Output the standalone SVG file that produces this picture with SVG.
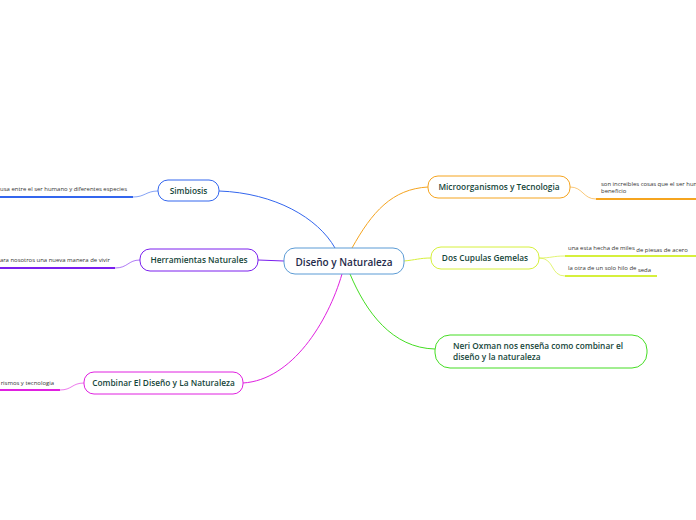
<svg xmlns="http://www.w3.org/2000/svg" width="696" height="520" viewBox="0 0 696 520">
<style>
.node{fill:#fff;stroke-width:1}
.t{font-family:"Open Sans","Noto Sans",sans-serif;font-size:8.3px;fill:#15463a;font-weight:600}
.c{font-family:"Open Sans","Noto Sans",sans-serif;font-size:10px;fill:#1f2b4a;font-weight:600}
.l{font-family:"Open Sans","Noto Sans",sans-serif;font-size:5.95px;fill:#333}
.con{fill:none;stroke-width:1}
.ul{fill:none;stroke-width:2}
</style>
<rect width="696" height="520" fill="#fff"/>
<g id="connectors">
<path class="con" stroke="#3366ee" d="M219,191 C275,193 318,218 335,248"/>
<path class="con" stroke="#7a1fee" d="M258,260 L284,261"/>
<path class="con" stroke="#e020e0" d="M243,383 C292,380 328,322 342,274"/>
<path class="con" stroke="#f5a41f" d="M352,248 C372,212 392,189 428,187"/>
<path class="con" stroke="#d6f03c" d="M404,261 C415,260 420,258 431,258"/>
<path class="con" stroke="#44dd22" d="M350,274 C366,312 392,348 435,349"/>
<path class="ul" stroke="#3366ee" d="M0,197 H133"/>
<path class="con" stroke="#3366ee" stroke-opacity="0.6" d="M133,197 C145,197 146,191 158,191"/>
<path class="ul" stroke="#7a1fee" d="M0,268 H115"/>
<path class="con" stroke="#7a1fee" stroke-opacity="0.6" d="M115,268 C128,268 128,260 140,260"/>
<path class="ul" stroke="#e020e0" d="M0,390 H60"/>
<path class="con" stroke="#e020e0" stroke-opacity="0.6" d="M60,390 C72,390 72,383 84,383"/>
<path class="ul" stroke="#f5a41f" d="M596,199 H696"/>
<path class="con" stroke="#f5a41f" stroke-opacity="0.6" d="M570,187 C583,187 583,199 596,199"/>
<path class="ul" stroke="#d6f03c" d="M565,256 H696"/>
<path class="ul" stroke="#d6f03c" d="M565,276 H657"/>
<path class="con" stroke="#d6f03c" stroke-opacity="0.7" d="M539,258 C552,258 552,256 565,256"/>
<path class="con" stroke="#d6f03c" stroke-opacity="0.7" d="M539,258 C555,258 550,276 565,276"/>
</g>
<g id="center">
<rect class="node" x="284" y="248" width="120" height="26" rx="11" stroke="#5b9bd5"/>
<text class="c" x="344" y="265.5" text-anchor="middle">Diseño y Naturaleza</text>
</g>
<g id="simbiosis">
<rect class="node" x="158" y="180" width="61" height="21" rx="10" stroke="#3366ee"/>
<text class="t" x="188.5" y="193.5" text-anchor="middle">Simbiosis</text>
</g>
<g id="simbiosis-leaf">
<text class="l" x="127" y="191" text-anchor="end">usa entre el ser humano y diferentes especies</text>
</g>
<g id="herramientas">
<rect class="node" x="140" y="249" width="118" height="22" rx="10" stroke="#7a1fee"/>
<text class="t" x="199" y="263" text-anchor="middle">Herramientas Naturales</text>
</g>
<g id="herramientas-leaf">
<text class="l" x="110" y="262" text-anchor="end">ara nosotros una nueva manera de vivir</text>
</g>
<g id="combinar">
<rect class="node" x="84" y="372" width="159" height="22" rx="10" stroke="#e020e0"/>
<text class="t" x="163.5" y="386" text-anchor="middle">Combinar El Diseño y La Naturaleza</text>
</g>
<g id="combinar-leaf">
<text class="l" x="54" y="385" text-anchor="end">rismos y tecnologia</text>
</g>
<g id="micro">
<rect class="node" x="428" y="176" width="142" height="22" rx="10" stroke="#f5a41f"/>
<text class="t" x="499" y="190" text-anchor="middle">Microorganismos y Tecnologia</text>
</g>
<g id="micro-leaf">
<text class="l" x="601" y="186">son increibles cosas que el ser hum</text>
<text class="l" x="601" y="193">beneficio</text>
</g>
<g id="cupulas">
<rect class="node" x="431" y="247" width="108" height="22" rx="10" stroke="#d6f03c"/>
<text class="t" x="485" y="261" text-anchor="middle">Dos Cupulas Gemelas</text>
</g>
<g id="cupulas-leaf1">
<text class="l" x="568" y="250">una esta hecha de miles <tspan dy="1.5">de piesas de acero</tspan></text>
</g>
<g id="cupulas-leaf2">
<text class="l" x="568" y="270">la otra de un solo hilo de <tspan dy="1.5">seda</tspan></text>
</g>
<g id="neri">
<rect class="node" x="435" y="335" width="212" height="33" rx="15" stroke="#44dd22"/>
<text class="t" x="453" y="349">Neri Oxman nos enseña como combinar el</text>
<text class="t" x="453" y="360">diseño y la naturaleza</text>
</g>
</svg>
